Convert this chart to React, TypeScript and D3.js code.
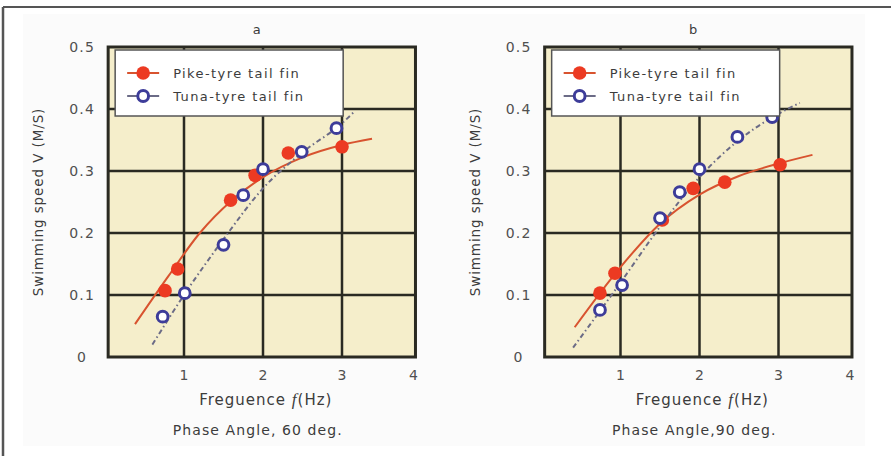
import React from 'react';
import * as d3 from 'd3';

// measured points (Hz, m/s)
const pikeA: [number, number][] = [[0.76, 0.107], [0.92, 0.142], [1.59, 0.253], [1.9, 0.293], [2.32, 0.329], [3.0, 0.339]];
const tunaA: [number, number][] = [[0.73, 0.065], [1.01, 0.103], [1.5, 0.181], [1.75, 0.261], [2.0, 0.303], [2.49, 0.331], [2.93, 0.369]];
const pikeB: [number, number][] = [[0.74, 0.103], [0.93, 0.135], [1.53, 0.221], [1.92, 0.272], [2.32, 0.282], [3.02, 0.31]];
const tunaB: [number, number][] = [[0.74, 0.076], [1.02, 0.116], [1.5, 0.224], [1.75, 0.266], [2.0, 0.303], [2.48, 0.355], [2.92, 0.387]];

// fitted curves
const pikeFitA: [number, number][] = [[0.38, 0.053], [0.8, 0.13], [1.2, 0.2], [1.6, 0.252], [2, 0.29], [2.5, 0.322], [3, 0.342], [3.38, 0.352]];
const tunaFitA: [number, number][] = [[0.6, 0.02], [1, 0.1], [1.5, 0.19], [2, 0.272], [2.5, 0.33], [3, 0.377], [3.15, 0.395]];
const pikeFitB: [number, number][] = [[0.42, 0.048], [1, 0.145], [1.5, 0.215], [2, 0.262], [2.5, 0.292], [3, 0.312], [3.43, 0.326]];
const tunaFitB: [number, number][] = [[0.4, 0.015], [1, 0.12], [1.5, 0.21], [2, 0.29], [2.5, 0.35], [2.9, 0.385], [3.27, 0.41]];

const xTicks = [1, 2, 3, 4];
const yTicks = [0, 0.1, 0.2, 0.3, 0.4, 0.5];
const yTickLabels = ['0', '0.1', '0.2', '0.3', '0.4', '0.5'];
const seriesNames = ['Pike-tyre tail fin', 'Tuna-tyre tail fin'];

const FONT = '"DejaVu Sans", Verdana, sans-serif';
const RED = '#ec3a22';
const RED_LINE = '#d8532f';
const BLUE = '#3d3c99';
const BLUE_LINE = '#6b6b86';
const GRID = '#2a2a22';
const TXT = '#3c3c3c';

function Panel({ ox, title, phase, pike, tuna, pikeFit, tunaFit }: any) {
  const x = d3.scaleLinear().domain([0, 4]).range([ox + 105, ox + 421]);
  const y = d3.scaleLinear().domain([0, 0.5]).range([357, 47]);
  const left = x(0.04);
  const right = x(3.93);
  const line = d3.line<[number, number]>().x(d => x(d[0])).y(d => y(d[1])).curve(d3.curveMonotoneX);
  const cx = (left + right) / 2;
  const lx = left + 7;
  const ly = 50;

  return (
    <g fontFamily={FONT}>
      <text x={x(1.92)} y={34} fontSize={13} fill={TXT} textAnchor="middle">{title}</text>
      <rect x={left} y={y(0.5)} width={right - left} height={y(0) - y(0.5)} fill="#f5eecb" />
      {xTicks.filter(v => v < 4).map(v => (
        <line key={'gx' + v} x1={x(v)} x2={x(v)} y1={y(0.5)} y2={y(0)} stroke={GRID} strokeWidth={2.5} />
      ))}
      {yTicks.filter(v => v > 0 && v < 0.5).map(v => (
        <line key={'gy' + v} x1={left} x2={right} y1={y(v)} y2={y(v)} stroke={GRID} strokeWidth={2.5} />
      ))}
      <rect x={left} y={y(0.5)} width={right - left} height={y(0) - y(0.5)} fill="none" stroke={GRID} strokeWidth={3} />

      <path d={line(pikeFit) || ''} fill="none" stroke={RED_LINE} strokeWidth={2} />
      <path d={line(tunaFit) || ''} fill="none" stroke={BLUE_LINE} strokeWidth={2} strokeDasharray="5,3,1.5,3" />
      {pike.map((d: [number, number], i: number) => (
        <circle key={'p' + i} cx={x(d[0])} cy={y(d[1])} r={6.8} fill={RED} />
      ))}
      {tuna.map((d: [number, number], i: number) => (
        <circle key={'t' + i} cx={x(d[0])} cy={y(d[1])} r={5.4} fill="#fff" stroke={BLUE} strokeWidth={3} />
      ))}

      {/* legend */}
      <rect x={lx} y={ly} width={228} height={66} fill="#fff" stroke="#555" strokeWidth={1.5} />
      <line x1={lx + 12} x2={lx + 44} y1={ly + 23} y2={ly + 23} stroke={RED_LINE} strokeWidth={2} />
      <circle cx={lx + 28} cy={ly + 23} r={6.8} fill={RED} />
      <text x={lx + 58} y={ly + 28} fontSize={13} letterSpacing={1.4} fill={TXT}>{seriesNames[0]}</text>
      <line x1={lx + 12} x2={lx + 44} y1={ly + 46} y2={ly + 46} stroke={BLUE_LINE} strokeWidth={2} />
      <circle cx={lx + 28} cy={ly + 46} r={5.4} fill="#fff" stroke={BLUE} strokeWidth={3} />
      <text x={lx + 58} y={ly + 51} fontSize={13} letterSpacing={1.4} fill={TXT}>{seriesNames[1]}</text>

      {/* axes labels */}
      {yTicks.map((v, i) => (
        <text key={'yl' + v} x={left - 26} y={y(v) + 5} fontSize={14} letterSpacing={1.2} fill="#505050" textAnchor="middle">{yTickLabels[i]}</text>
      ))}
      {xTicks.map(v => (
        <text key={'xl' + v} x={Math.min(x(v), right - 2)} y={y(0) + 23} fontSize={14} fill="#505050" textAnchor="middle">{v}</text>
      ))}
      <text x={cx + 4} y={405} fontSize={15} letterSpacing={1} fill={TXT} textAnchor="middle">
        Freguence <tspan fontStyle="italic" fontFamily='"Liberation Serif", serif' fontSize={17}>f</tspan>(Hz)
      </text>
      <text x={cx - 4} y={435} fontSize={14} letterSpacing={1.1} fill={TXT} textAnchor="middle">{phase}</text>
      <text transform={`translate(${ox + 43},${y(0.25)}) rotate(-90)`} fontSize={13.5} letterSpacing={0.9} fill={TXT} textAnchor="middle">
        Swimming speed V (M/S)
      </text>
    </g>
  );
}

export default function App() {
  return (
    <svg width={891} height={456} style={{ position: 'absolute', left: 0, top: 0, background: '#fff' }}>
      <rect x={0} y={0} width={891} height={456} fill="#fff" />
      <rect x={23} y={14} width={842} height={432} fill="#fbfbfb" />
      <line x1={3} x2={891} y1={7} y2={7} stroke="#555" strokeWidth={2} />
      <line x1={3} x2={3} y1={7} y2={456} stroke="#555" strokeWidth={2.5} />
      <Panel ox={0} title="a" phase="Phase Angle, 60 deg." pike={pikeA} tuna={tunaA} pikeFit={pikeFitA} tunaFit={tunaFitA} />
      <Panel ox={436.5} title="b" phase="Phase Angle,90 deg." pike={pikeB} tuna={tunaB} pikeFit={pikeFitB} tunaFit={tunaFitB} />
    </svg>
  );
}
